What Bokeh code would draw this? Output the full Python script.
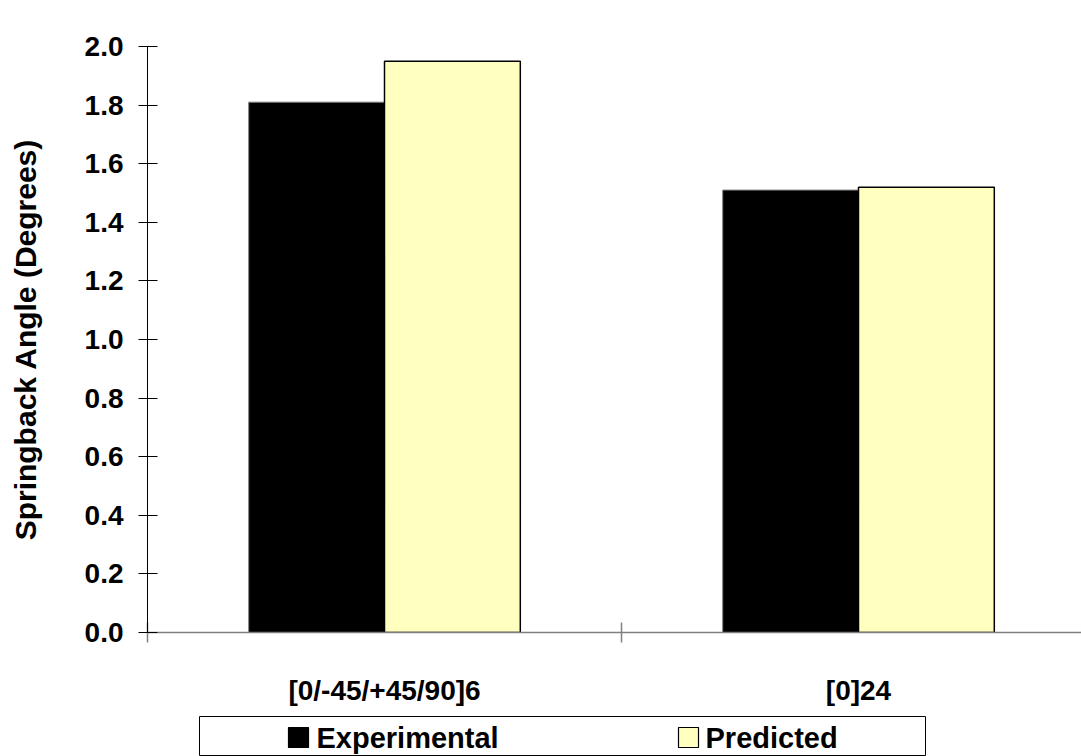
from bokeh.plotting import figure
from bokeh.models import Range1d, FixedTicker, ColumnDataSource, Spacer, PrintfTickFormatter
from bokeh.layouts import column, row
from bokeh.transform import dodge
from bokeh.core.properties import value
from bokeh.embed import file_html
from bokeh.resources import INLINE

categories = ["[0/-45/+45/90]6", "[0]24"]
experimental = [1.81, 1.51]
predicted = [1.95, 1.52]
series = ["Experimental", "Predicted"]
series_colors = ["#000000", "#FFFFC0"]
series_lines = ["#808080", "#000000"]
y_ticks = [0.0, 0.2, 0.4, 0.6, 0.8, 1.0, 1.2, 1.4, 1.6, 1.8, 2.0]
y_label = "Springback Angle (Degrees)"

FONT = "Liberation Sans"

cat_pos = [i + 0.5 for i in range(len(categories))]
cat_bounds = [float(i) for i in range(len(categories) + 1)]
src = ColumnDataSource(dict(x=cat_pos, exp=experimental, pred=predicted))

p = figure(width=1081, height=716,
           x_range=Range1d(0, 934 / 474), y_range=Range1d(0, 2.0),
           output_backend="svg", toolbar_location=None,
           min_border_left=147, min_border_right=0,
           min_border_top=46, min_border_bottom=84)
p.outline_line_color = None
p.xgrid.visible = False
p.ygrid.visible = False
p.background_fill_color = "white"
p.border_fill_color = "white"

bw = 0.2865
p.vbar(x=dodge("x", -bw / 2, range=p.x_range), top="exp", width=bw, bottom=0,
       source=src, fill_color=series_colors[0], line_color=series_lines[0], line_width=1)
p.vbar(x=dodge("x", bw / 2, range=p.x_range), top="pred", width=bw, bottom=0,
       source=src, fill_color=series_colors[1], line_color=series_lines[1], line_width=1.5)

# y axis
ya = p.yaxis[0]
ya.ticker = FixedTicker(ticks=y_ticks, minor_ticks=[])
ya.formatter = PrintfTickFormatter(format="%.1f")
ya.major_tick_in = 10
ya.major_tick_out = 9
ya.major_tick_line_color = "black"
ya.axis_line_color = "black"
ya.major_label_text_font = FONT
ya.major_label_text_font_style = "bold"
ya.major_label_text_font_size = "28px"
ya.major_label_text_color = "black"
ya.major_label_standoff = 15
ya.axis_label = y_label
ya.axis_label_text_font = FONT
ya.axis_label_text_font_style = "bold"
ya.axis_label_text_font_size = "30px"
ya.axis_label_text_color = "black"
ya.axis_label_standoff = 40

# x axis
xa = p.xaxis[0]
xa.ticker = FixedTicker(ticks=cat_pos, minor_ticks=cat_bounds)
xa.major_label_overrides = {pos: lab for pos, lab in zip(cat_pos, categories)}
xa.major_tick_in = 0
xa.major_tick_out = 0
xa.minor_tick_in = 10
xa.minor_tick_out = 10
xa.minor_tick_line_color = "#808080"
xa.minor_tick_line_width = 1.5
xa.axis_line_color = "#808080"
xa.axis_line_width = 1.5
xa.major_label_text_font = FONT
xa.major_label_text_font_style = "bold"
xa.major_label_text_font_size = "28px"
xa.major_label_text_color = "black"
xa.major_label_standoff = 32

# legend panel
lg = figure(width=727, height=40, x_range=Range1d(0, 727), y_range=Range1d(0, 40),
            output_backend="svg", toolbar_location=None,
            x_axis_type=None, y_axis_type=None,
            min_border_left=0, min_border_right=0, min_border_top=0, min_border_bottom=0)
lg.xgrid.visible = False
lg.ygrid.visible = False
lg.outline_line_color = "black"
lg.outline_line_width = 1
leg_src = ColumnDataSource(dict(
    x=[99, 489], tx=[117, 506], y=[19, 19],
    label=series, fill=series_colors, line=["#000000", "#000000"]))
lg.scatter(x="x", y="y", marker="square", size=20, fill_color="fill",
           line_color="line", line_width=1.2, source=leg_src)
lg.text(x="tx", y="y", text="label", source=leg_src,
        text_font=value(FONT), text_font_style="bold", text_font_size="29px",
        text_align="left", text_baseline="middle", text_color="black")

layout = column(p, row(Spacer(width=199), lg, spacing=0), spacing=0)

open("out.html", "w").write(file_html(layout, INLINE))
